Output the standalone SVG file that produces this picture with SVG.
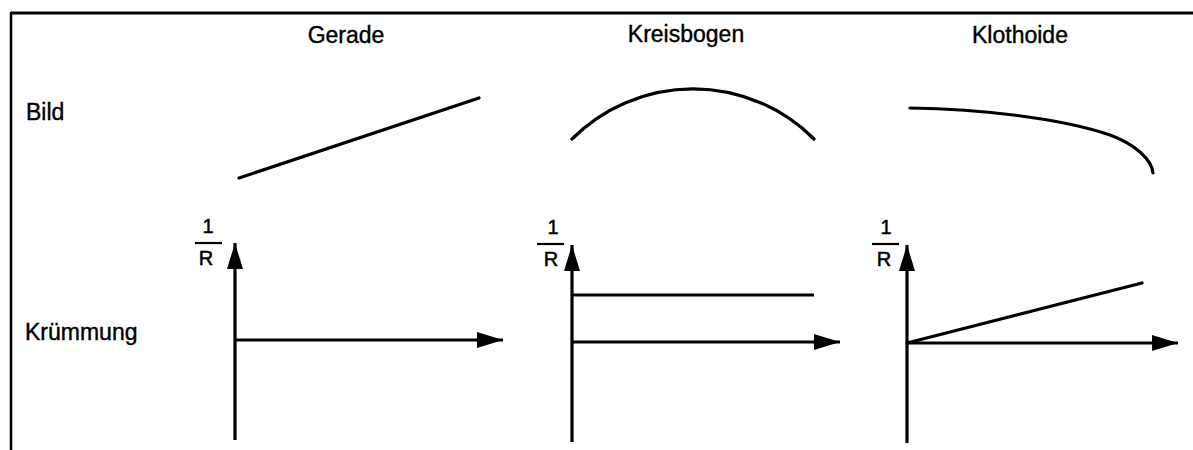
<svg xmlns="http://www.w3.org/2000/svg" width="1193" height="450" viewBox="0 0 1193 450">
<style>
.t{font-family:"Liberation Sans",Arial,sans-serif;font-size:23px;fill:#000;stroke:#000;stroke-width:0.4}
.f{font-family:"Liberation Sans",Arial,sans-serif;font-size:20px;fill:#000;stroke:#000;stroke-width:0.5;text-anchor:middle}
.ln{stroke:#000;stroke-width:3.2;fill:none;stroke-linecap:round}
.ax{stroke:#000;stroke-width:3.2;fill:none}
.bar{stroke:#000;stroke-width:2.2}
</style>
<defs>
<marker id="ah" markerUnits="userSpaceOnUse" markerWidth="28" markerHeight="16" refX="26" refY="8" orient="auto">
<path d="M0,0 L26,8 L0,16 Z" fill="#000"/>
</marker>
</defs>
<rect width="1193" height="450" fill="#fff"/>
<g id="frame">
<line x1="11" y1="13" x2="1193" y2="13" stroke="#000" stroke-width="3"/>
<line x1="11" y1="12" x2="11" y2="450" stroke="#000" stroke-width="2.5"/>
</g>
<g id="labels">
<text class="t" x="346" y="43" text-anchor="middle">Gerade</text>
<text class="t" x="686" y="42" text-anchor="middle">Kreisbogen</text>
<text class="t" x="1020" y="43" text-anchor="middle">Klothoide</text>
<text class="t" x="26" y="120">Bild</text>
<text class="t" x="25" y="340">Krümmung</text>
</g>
<g id="bild-gerade"><path class="ln" d="M239,178 L479,98"/></g>
<g id="bild-kreisbogen"><path class="ln" d="M572,139 A171,171 0 0 1 814,139"/></g>
<g id="bild-klothoide"><path class="ln" d="M910,108 C980,109 1060,118 1110,135 C1135,144 1152,160 1153,173"/></g>
<g id="fractions">
<text class="f" x="208" y="233">1</text><line class="bar" x1="195" y1="243" x2="222" y2="243"/><text class="f" x="206" y="265">R</text>
<text class="f" x="553" y="234">1</text><line class="bar" x1="537" y1="244" x2="564" y2="244"/><text class="f" x="551" y="266">R</text>
<text class="f" x="886" y="234">1</text><line class="bar" x1="872" y1="244" x2="899" y2="244"/><text class="f" x="884" y="266">R</text>
</g>
<g id="connectors">
<line class="ax" x1="235" y1="440" x2="235" y2="243" marker-end="url(#ah)"/>
<line class="ax" x1="235" y1="340" x2="503" y2="340" marker-end="url(#ah)"/>
<line class="ax" x1="572" y1="442" x2="572" y2="245" marker-end="url(#ah)"/>
<line class="ax" x1="572" y1="342" x2="840" y2="342" marker-end="url(#ah)"/>
<line class="ax" x1="572" y1="295" x2="814" y2="295"/>
<line class="ax" x1="907" y1="443" x2="907" y2="245" marker-end="url(#ah)"/>
<line class="ax" x1="907" y1="343" x2="1178" y2="343" marker-end="url(#ah)"/>
<line class="ln" x1="907" y1="343" x2="1142" y2="283"/>
</g>
</svg>
